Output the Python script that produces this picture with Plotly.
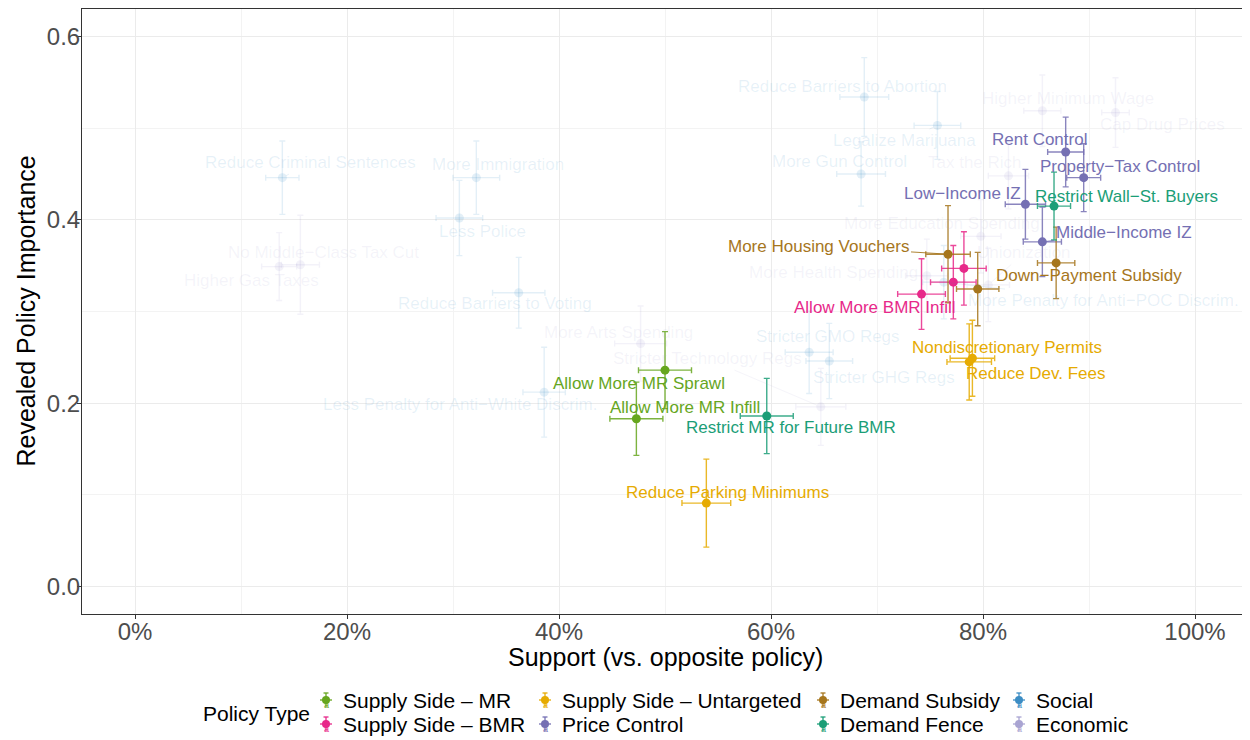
import plotly.graph_objects as go

# ---------------- data ----------------
groups = ["Supply Side – MR", "Supply Side – BMR", "Supply Side – Untargeted", "Price Control",
          "Demand Subsidy", "Demand Fence", "Social", "Economic"]
group_colors = ["#66A61E", "#E7298A", "#E6AB02", "#7570B3", "#A6761D", "#1B9E77", "#3C8DC4", "#A9A4D2"]
faded_groups = ["Social", "Economic"]

policy = ["Allow More MR Sprawl", "Allow More MR Infill",
          "Allow More BMR Infill", "", "",
          "Nondiscretionary Permits", "Reduce Dev. Fees", "Reduce Parking Minimums",
          "Rent Control", "Property−Tax Control", "Low−Income IZ", "Middle−Income IZ",
          "More Housing Vouchers", "Down−Payment Subsidy", "",
          "Restrict MR for Future BMR", "Restrict Wall−St. Buyers",
          "Reduce Criminal Sentences", "More Immigration", "Less Police", "Reduce Barriers to Voting",
          "Less Penalty for Anti−White Discrim.", "More Penalty for Anti−POC Discrim.",
          "Reduce Barriers to Abortion", "Legalize Marijuana", "More Gun Control",
          "Stricter GMO Regs", "Stricter GHG Regs",
          "No Middle−Class Tax Cut", "Higher Gas Taxes", "More Arts Spending", "Stricter Technology Regs",
          "Higher Minimum Wage", "Cap Drug Prices", "Tax the Rich", "More Education Spending",
          "More Health Spending", "Unionization"]
policy_type = ["Supply Side – MR"] * 2 + ["Supply Side – BMR"] * 3 + ["Supply Side – Untargeted"] * 3 + \
              ["Price Control"] * 4 + ["Demand Subsidy"] * 3 + ["Demand Fence"] * 2 + \
              ["Social"] * 11 + ["Economic"] * 10
support = [0.500, 0.473,
           0.742, 0.782, 0.772,
           0.790, 0.787, 0.539,
           0.878, 0.895, 0.840, 0.856,
           0.767, 0.869, 0.795,
           0.596, 0.867,
           0.139, 0.322, 0.306, 0.362, 0.386, 0.763, 0.688, 0.757, 0.685, 0.636, 0.655,
           0.156, 0.136, 0.477, 0.647, 0.856, 0.925, 0.824, 0.798, 0.747, 0.805]
support_err = [0.025, 0.025,
               0.0225, 0.021, 0.0215,
               0.021, 0.021, 0.023,
               0.017, 0.016, 0.019, 0.018,
               0.021, 0.0176, 0.020,
               0.025, 0.0156,
               0.0157, 0.022, 0.022, 0.0247, 0.020, 0.020, 0.023, 0.022, 0.023, 0.0226, 0.022,
               0.018, 0.0165, 0.0245, 0.0236, 0.0175, 0.013, 0.019, 0.019, 0.020, 0.020]
importance = [0.236, 0.183,
              0.319, 0.347, 0.332,
              0.249, 0.245, 0.091,
              0.474, 0.446, 0.417, 0.376,
              0.3625, 0.353, 0.3245,
              0.186, 0.415,
              0.446, 0.446, 0.402, 0.3205, 0.212, 0.332, 0.534, 0.503, 0.450, 0.2555, 0.246,
              0.351, 0.349, 0.265, 0.196, 0.519, 0.517, 0.448, 0.382, 0.339, 0.329]
importance_err = [0.042, 0.040,
                  0.0385, 0.040, 0.040,
                  0.0415, 0.0415, 0.048,
                  0.038, 0.037, 0.038, 0.038,
                  0.053, 0.039, 0.040,
                  0.041, 0.037,
                  0.040, 0.040, 0.041, 0.0386, 0.049, 0.040, 0.043, 0.037, 0.035, 0.045, 0.041,
                  0.054, 0.037, 0.041, 0.042, 0.039, 0.038, 0.036, 0.040, 0.040, 0.040]

# label placement (pixel offsets from the point) and whether a leader segment is drawn
label_dx = [-26, 49,
            -47, 0, 0,
            35, 67, 21,
            -26, 36, -63, 82,
            -130, 33, 0,
            24, 72,
            28, 22, 23, -24, -84, 160, -22, -33, -22, 19, 55,
            23, -28, -22, -113, 26, 47, -33, -39, -93, 36]
label_dy = [13, -11,
            13, 0, 0,
            -11, 12, -11,
            -13, -11, -11, -9,
            -8, 13, 0,
            11, -10,
            -15, -13, 13, 11, 12, 18, -11, 15, -13, -16, 16,
            -12, 14, -11, -48, -12, 12, -13, -13, -3, -32]
leader = [False, False,
          False, False, False,
          False, False, False,
          True, False, False, True,
          True, False, False,
          False, False,
          True, False, False, False, False, True, False, True, False, False, False,
          False, False, False, True, False, False, False, False, True, True]

x_ticks = [0, 0.2, 0.4, 0.6, 0.8, 1.0]
y_ticks = [0.0, 0.2, 0.4, 0.6]

# legend layout (4 columns x 2 rows), in page pixels
legend_cols = [["Supply Side – MR", "Supply Side – BMR"],
               ["Supply Side – Untargeted", "Price Control"],
               ["Demand Subsidy", "Demand Fence"],
               ["Social", "Economic"]]
legend_text_x = [341, 560, 838, 1034]
legend_row_y = [700, 724]

# ---------------- figure ----------------
PAGE_OFFSET = 8  # default body margin of the html page
W, H = 1250 - PAGE_OFFSET, 740 - PAGE_OFFSET
ML, MR, MT, MB = 82 - PAGE_OFFSET, 2, 9 - PAGE_OFFSET, 126
PW, PH = W - ML - MR, H - MT - MB


def px2paper_x(px):  # page pixel -> paper coordinate
    return (px - PAGE_OFFSET - ML) / PW


def px2paper_y(py):
    return (H - MB - (py - PAGE_OFFSET)) / PH


def rgba(hex_color, a):
    h = hex_color.lstrip("#")
    r, g, b = int(h[0:2], 16), int(h[2:4], 16), int(h[4:6], 16)
    return f"rgba({r},{g},{b},{a})"


FONT = "Liberation Sans, Arial, Helvetica, sans-serif"
fig = go.Figure()

order = faded_groups + [g for g in groups if g not in faded_groups]
for g in order:
    idx = [i for i, t in enumerate(policy_type) if t == g]
    col = group_colors[groups.index(g)]
    faded = g in faded_groups
    mcol = rgba(col, 0.14) if faded else col
    ecol = rgba(col, 0.14) if faded else rgba(col, 0.85)
    fig.add_trace(go.Scatter(
        x=[support[i] for i in idx], y=[importance[i] for i in idx],
        mode="markers", name=g, showlegend=False,
        marker=dict(color=mcol, size=9, line=dict(width=0)),
        error_x=dict(type="data", array=[support_err[i] for i in idx], color=ecol, thickness=1.4, width=3),
        error_y=dict(type="data", array=[importance_err[i] for i in idx], color=ecol, thickness=1.4, width=3),
        hoverinfo="skip",
    ))

annotations = []
for i, name in enumerate(policy):
    if not name:
        continue
    col = group_colors[groups.index(policy_type[i])]
    faded = policy_type[i] in faded_groups
    tcol = rgba(col, 0.12) if faded else col
    annotations.append(dict(
        x=support[i], y=importance[i], xref="x", yref="y",
        text=name, showarrow=True, ax=label_dx[i], ay=label_dy[i],
        arrowhead=0, arrowwidth=0.9, standoff=4, startstandoff=1,
        arrowcolor=(tcol if leader[i] else "rgba(0,0,0,0)"),
        font=dict(family=FONT, size=17, color=tcol),
    ))

annotations.append(dict(text="Support (vs. opposite policy)", x=0.5, y=0, xref="paper", yref="paper",
                        xanchor="center", yanchor="middle", yshift=-43, showarrow=False,
                        font=dict(family=FONT, size=25, color="black")))
annotations.append(dict(text="Revealed Policy Importance", x=0, y=0.5, xref="paper", yref="paper",
                        xanchor="center", yanchor="middle", xshift=-57, textangle=-90, showarrow=False,
                        font=dict(family=FONT, size=25, color="black")))
annotations.append(dict(text="Policy Type", x=px2paper_x(256), y=px2paper_y(713), xref="paper", yref="paper",
                        xanchor="center", yanchor="middle", showarrow=False,
                        font=dict(family=FONT, size=21, color="black")))

# legend: key glyph (point with error cross) + label
shapes = []
for cx_text, col_groups in zip(legend_text_x, legend_cols):
    for ry, g in zip(legend_row_y, col_groups):
        col = group_colors[groups.index(g)]
        kx, ky = px2paper_x(cx_text - 15), px2paper_y(ry)
        common = dict(xref="paper", yref="paper", xsizemode="pixel", ysizemode="pixel",
                      xanchor=kx, yanchor=ky)
        shapes.append(dict(type="line", x0=-6, x1=6, y0=0, y1=0,
                           line=dict(color=col, width=1.3), **common))
        shapes.append(dict(type="line", x0=0, x1=0, y0=-7, y1=7,
                           line=dict(color=col, width=1.3), **common))
        shapes.append(dict(type="line", x0=-2.5, x1=2.5, y0=7, y1=7,
                           line=dict(color=col, width=1.3), **common))
        shapes.append(dict(type="circle", x0=-4, x1=4, y0=-4, y1=4,
                           fillcolor=col, line=dict(color=col, width=0), **common))
        annotations.append(dict(text="a", x=kx, y=ky, xref="paper", yref="paper", yshift=-5,
                                xanchor="center", yanchor="middle", showarrow=False,
                                font=dict(family=FONT, size=9, color=col)))
        annotations.append(dict(text=g, x=px2paper_x(cx_text), y=ky, xref="paper", yref="paper",
                                xanchor="left", yanchor="middle", showarrow=False,
                                font=dict(family=FONT, size=21, color="black")))

fig.update_layout(
    width=W, height=H,
    margin=dict(l=ML, r=MR, t=MT, b=MB),
    paper_bgcolor="white", plot_bgcolor="white",
    font=dict(family=FONT),
    showlegend=False,
    annotations=annotations,
    shapes=shapes,
)
axis_common = dict(
    showgrid=True, gridcolor="#EBEBEB", gridwidth=1.1,
    minor=dict(dtick=0.1, tick0=0, showgrid=True, gridcolor="#F3F3F3", gridwidth=0.6),
    zeroline=False, showline=True, mirror=True, linecolor="#333333", linewidth=1,
    ticks="outside", ticklen=4, tickcolor="#333333", automargin=False,
    tickfont=dict(family=FONT, size=24, color="#4D4D4D"),
)
fig.update_xaxes(range=[-0.05, 1.05], tickvals=x_ticks, tickformat=".0%", ticklabelstandoff=-8, **axis_common)
fig.update_yaxes(range=[-0.03, 0.63], tickvals=y_ticks, tickformat=".1f", ticklabelstandoff=-8, **axis_common)

fig.write_html("out.html")
